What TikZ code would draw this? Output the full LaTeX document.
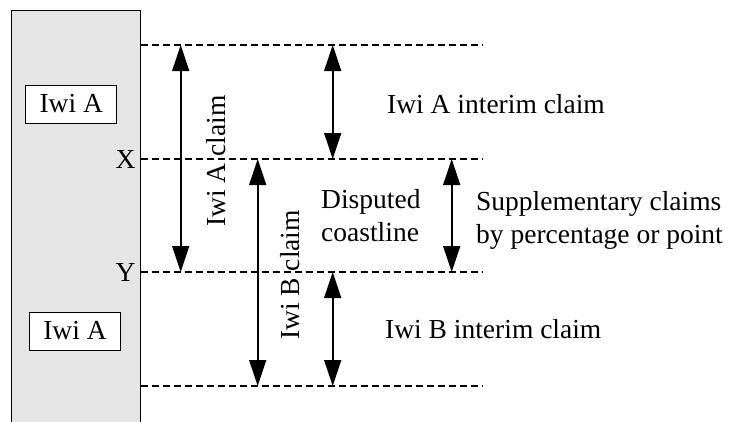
\documentclass[tikz,border=0pt]{standalone}
\usepackage{fontspec}
\setmainfont{Liberation Serif}
\usetikzlibrary{arrows.meta}

\begin{document}
\begin{tikzpicture}
        [
            x=1pt, y=-1pt,
            every node/.style={
                font=\fontsize{27.5}{33}\selectfont,
                inner sep=0pt
            },
            shore/.style={
                draw,
                line width=1.2pt,
                fill=black!10,
                minimum width=129pt,
                minimum height=440pt,
                anchor=north west
            },
            tribe/.style={
                draw,
                fill=white,
                line width=0.9pt,
                minimum width=91pt,
                minimum height=38pt
            },
            level/.style={
                draw,
                line width=1.5pt,
                dash pattern=on 7pt off 4pt
            },
            span/.style={
                draw,
                line width=1.6pt,
                {Triangle[length=26pt,width=17pt]}-{Triangle[length=26pt,width=17pt]}
            }
         ]
        \useasboundingbox (0,0) rectangle (729,421);
        \node[shore] (coast) at (10.5,10) {};
        \node[tribe] (iwiA) at (71.2,104) {Iwi A};
        \node[tribe] (iwiB) at (75,331) {Iwi A};
        \foreach \y/\n in {45/top,159/x,272/y,386/bot}
        {
            \coordinate (l\n) at (coast.east |- 0,\y);
            \coordinate (r\n) at (483,\y);
            \draw[level] (l\n) -- (r\n);
        }
        \node[anchor=east] (markX) at ([xshift=-5pt]lx) {X};
        \node[anchor=east] (markY) at ([xshift=-5pt]ly) {Y};
        \draw[span] ([xshift=40pt]ltop) -- ([xshift=40pt]ly);
        \draw[span] ([xshift=117pt]lx) -- ([xshift=117pt]lbot);
        \draw[span] ([xshift=192pt]ltop) -- ([xshift=192pt]lx);
        \draw[span] ([xshift=311pt]lx) -- ([xshift=311pt]ly);
        \draw[span] ([xshift=192pt]ly) -- ([xshift=192pt]lbot);
        \node[rotate=90] (claimA) at (216.5,161) {Iwi A claim};
        \node[rotate=90] (claimB) at (290,275) {Iwi B claim};
        \node[anchor=west] (interimA) at (387,104) {Iwi A interim claim};
        \node[anchor=west, align=left] (disputed) at (321,216) {Disputed\\coastline};
        \node[anchor=west, align=left] (supp) at (476,220) {Supplementary claims\\by percentage or point};
        \node[anchor=west] (interimB) at (385,329) {Iwi B interim claim};
    \end{tikzpicture}
\end{document}
